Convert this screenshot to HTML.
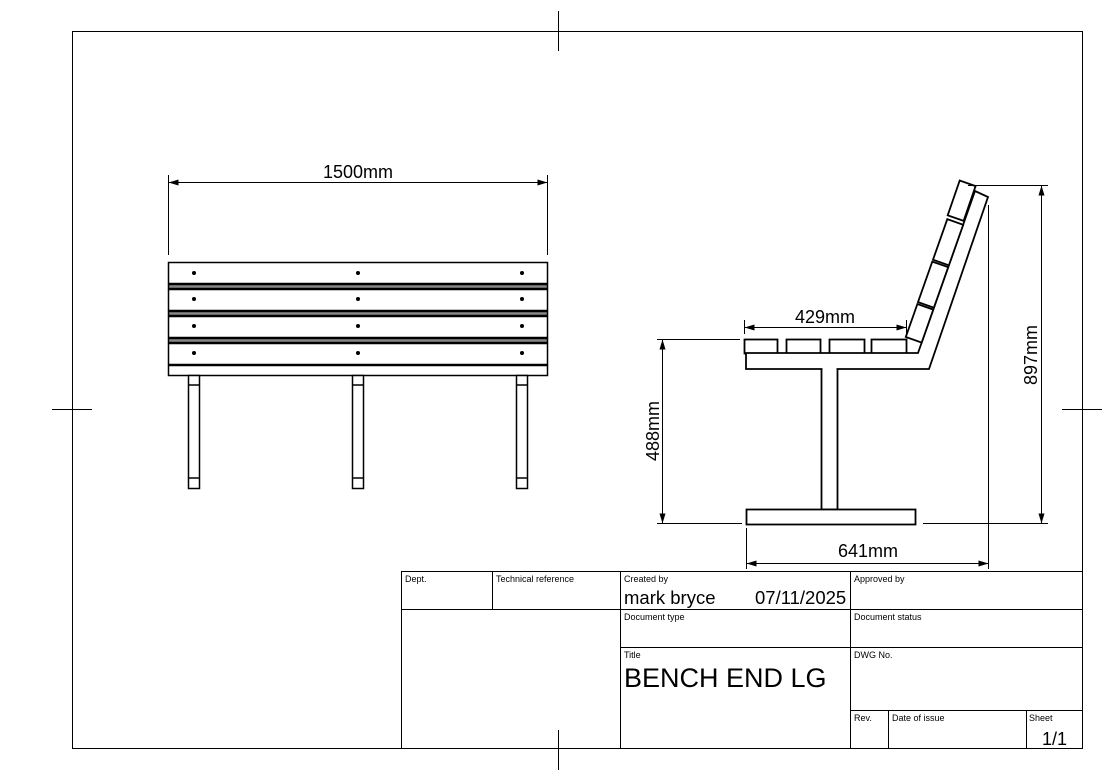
<!DOCTYPE html>
<html><head><meta charset="utf-8"><style>
html,body{margin:0;padding:0;background:#fff}
svg{display:block}
text{font-family:"Liberation Sans",Arial,sans-serif;fill:#000}
</style></head><body>
<svg width="1119" height="780" viewBox="0 0 1119 780" xmlns="http://www.w3.org/2000/svg">
<defs>
<marker id="a" viewBox="0 0 10 6" refX="10" refY="3" markerWidth="14" markerHeight="6" orient="auto-start-reverse" markerUnits="userSpaceOnUse"><path d="M0,0 L10,3 L0,6 z" fill="#000"/></marker>
</defs>
<rect width="1119" height="780" fill="#fff"/>
<g stroke="#000" fill="none" stroke-width="1">
<rect x="72.5" y="31.5" width="1010" height="717"/>
<line x1="558.5" y1="11" x2="558.5" y2="51"/>
<line x1="558.5" y1="730" x2="558.5" y2="770"/>
<line x1="52" y1="409.5" x2="92" y2="409.5"/>
<line x1="1062" y1="409.5" x2="1102" y2="409.5"/>
</g>

<!-- Front view -->
<g stroke="#000" stroke-width="1.5" fill="#fff">
<rect x="168.5" y="262.5" width="379" height="21"/>
<rect x="168.5" y="284.5" width="379" height="4" fill="#888"/>
<rect x="168.5" y="289.5" width="379" height="21"/>
<rect x="168.5" y="311.5" width="379" height="4" fill="#888"/>
<rect x="168.5" y="316.5" width="379" height="21"/>
<rect x="168.5" y="338.5" width="379" height="4" fill="#888"/>
<rect x="168.5" y="343.5" width="379" height="21"/>
<rect x="168.5" y="365.5" width="379" height="10"/>
<rect x="188.5" y="375.5" width="11" height="113"/>
<rect x="352.5" y="375.5" width="11" height="113"/>
<rect x="516.5" y="375.5" width="11" height="113"/>
<path d="M188 385h11M188 478h11M352 385h11M352 478h11M516 385h11M516 478h11" fill="none"/>
</g>
<g fill="#000">
<circle cx="194" cy="273" r="2"/><circle cx="358" cy="273" r="2"/><circle cx="522" cy="273" r="2"/>
<circle cx="194" cy="299" r="2"/><circle cx="358" cy="299" r="2"/><circle cx="522" cy="299" r="2"/>
<circle cx="194" cy="326" r="2"/><circle cx="358" cy="326" r="2"/><circle cx="522" cy="326" r="2"/>
<circle cx="194" cy="353" r="2"/><circle cx="358" cy="353" r="2"/><circle cx="522" cy="353" r="2"/>
</g>
<g stroke="#000" stroke-width="1" fill="none">
<line x1="168.5" y1="175" x2="168.5" y2="255"/>
<line x1="547.5" y1="175" x2="547.5" y2="255"/>
<line x1="168.5" y1="182.5" x2="547.5" y2="182.5" marker-start="url(#a)" marker-end="url(#a)"/>
</g>
<text x="358" y="178" font-size="18" text-anchor="middle">1500mm</text>

<!-- Side view -->
<g stroke="#000" stroke-width="1.8" fill="#fff">
<rect x="744.5" y="339.5" width="33" height="14"/>
<rect x="786.5" y="339.5" width="34" height="14"/>
<rect x="829.5" y="339.5" width="35" height="14"/>
<rect x="871.5" y="339.5" width="35" height="14"/>
<rect x="821.5" y="366.5" width="16" height="143"/>
<polygon points="746,353 918,353 975,191 988,197 929,369 746,369"/>
<line x1="822.5" y1="369" x2="836.5" y2="369" stroke="#fff" stroke-width="2.5"/>
<rect x="746.5" y="509.5" width="169" height="15"/>
<polygon points="921.7,342.6 933.3,309.6 917.4,304.0 905.8,337.0"/>
<polygon points="933.9,307.7 948.2,267.2 932.3,261.6 918.0,302.1"/>
<polygon points="948.9,265.3 963.2,224.8 947.3,219.2 933.0,259.7"/>
<polygon points="963.6,220.9 975.6,186.1 959.7,180.5 947.7,215.3"/>
</g>
<g stroke="#000" stroke-width="1" fill="none">
<line x1="744.5" y1="320" x2="744.5" y2="334"/>
<line x1="906.5" y1="320" x2="906.5" y2="334"/>
<line x1="744.5" y1="327.5" x2="906.5" y2="327.5" marker-start="url(#a)" marker-end="url(#a)"/>
<line x1="657" y1="339.5" x2="740" y2="339.5"/>
<line x1="657" y1="523.5" x2="742" y2="523.5"/>
<line x1="662.5" y1="339.5" x2="662.5" y2="523.5" marker-start="url(#a)" marker-end="url(#a)"/>
<line x1="968" y1="185.5" x2="1048" y2="185.5"/>
<line x1="923" y1="523.5" x2="1048" y2="523.5"/>
<line x1="1041.5" y1="185.5" x2="1041.5" y2="523.5" marker-start="url(#a)" marker-end="url(#a)"/>
<line x1="746.5" y1="528" x2="746.5" y2="569"/>
<line x1="988.5" y1="205" x2="988.5" y2="569"/>
<line x1="746.5" y1="563.5" x2="988.5" y2="563.5" marker-start="url(#a)" marker-end="url(#a)"/>
</g>
<text x="825" y="323" font-size="18" text-anchor="middle">429mm</text>
<text x="868" y="557" font-size="18" text-anchor="middle">641mm</text>
<text transform="translate(659,431) rotate(-90)" font-size="18" text-anchor="middle">488mm</text>
<text transform="translate(1037,355) rotate(-90)" font-size="18" text-anchor="middle">897mm</text>

<!-- Title block -->
<g stroke="#000" stroke-width="1" fill="none">
<rect x="401.5" y="571.5" width="681" height="177" fill="#fff"/>
<line x1="401" y1="609.5" x2="1082" y2="609.5"/>
<line x1="620" y1="647.5" x2="1082" y2="647.5"/>
<line x1="850" y1="710.5" x2="1082" y2="710.5"/>
<line x1="492.5" y1="571" x2="492.5" y2="609"/>
<line x1="620.5" y1="571" x2="620.5" y2="748"/>
<line x1="850.5" y1="571" x2="850.5" y2="748"/>
<line x1="888.5" y1="710" x2="888.5" y2="748"/>
<line x1="1026.5" y1="710" x2="1026.5" y2="748"/>
<line x1="558.5" y1="730" x2="558.5" y2="770"/>
</g>
<g font-size="9">
<text x="405" y="582">Dept.</text>
<text x="496" y="582">Technical reference</text>
<text x="624" y="582">Created by</text>
<text x="854" y="582">Approved by</text>
<text x="624" y="620">Document type</text>
<text x="854" y="620">Document status</text>
<text x="624" y="658">Title</text>
<text x="854" y="658">DWG No.</text>
<text x="854" y="721">Rev.</text>
<text x="892" y="721">Date of issue</text>
<text x="1029" y="721">Sheet</text>
</g>
<text x="624" y="604" font-size="18.5">mark bryce</text>
<text x="755" y="604" font-size="18.5">07/11/2025</text>
<text x="624" y="687" font-size="27">BENCH END LG</text>
<text x="1042" y="745" font-size="18">1/1</text>
</svg>
</body></html>
